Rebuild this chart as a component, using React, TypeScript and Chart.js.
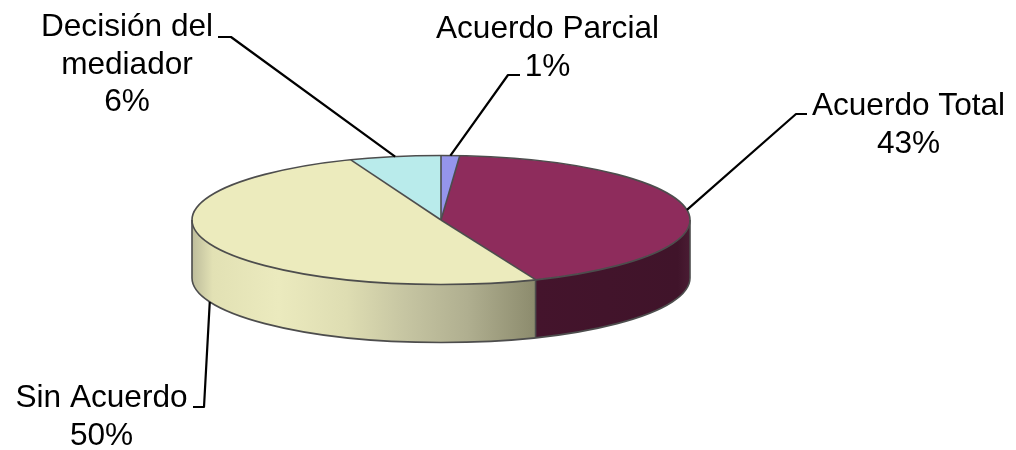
import React, { useEffect, useRef } from "react";
import { Chart, registerables } from "chart.js";

Chart.register(...registerables);

const categories = ["Acuerdo Parcial", "Acuerdo Total", "Sin Acuerdo", "Decisión del mediador"];
const values = [1.2, 42.6, 50.3, 5.9];
const topColors = ["#9595EC", "#8E2C5C", "#ECEBBD", "#B9EBEB"];
const labelLines = [["Acuerdo Parcial"], ["Acuerdo Total"], ["Sin Acuerdo"], ["Decisión del", "mediador"]];

const RADIUS_X = 249;
const RADIUS_Y = 64.5;
const DEPTH = 58;
const FONT_PX = 31.6;
const LINE_HEIGHT = 37.5;
const OUTLINE = "#4d4d4d";

// Label placement: text centre, first baseline, leader elbow and leader stub end.
const labelBoxes = [
  { cx: 547.5, y: 38, elbowX: 508, elbowY: 75, stubX: 520 },
  { cx: 908.5, y: 115, elbowX: 796, elbowY: 114, stubX: 807 },
  { cx: 101.5, y: 407, elbowX: 204, elbowY: 407, stubX: 193 },
  { cx: 127, y: 36, elbowX: 231, elbowY: 37, stubX: 218 },
];

const wallStops: [number, string][] = [
  [0, "#BDBC9B"],
  [0.06, "#E2E1B4"],
  [0.25, "#EBEABE"],
  [0.45, "#DEDDB2"],
  [0.62, "#C6C5A2"],
  [0.8, "#B0AF90"],
  [1, "#8C8B6D"],
];

const pie3d = {
  id: "pie3d",
  beforeDatasetsDraw(chart: any) {
    const ctx = chart.ctx;
    const arcs = chart.getDatasetMeta(0).data;
    const { x, y } = arcs[0];

    arcs.forEach((arc: any, i: number) => {
      const a0 = Math.max(arc.startAngle, 0);
      const a1 = Math.min(arc.endAngle, Math.PI);
      if (a1 <= a0) return;
      const x0 = x + RADIUS_X * Math.cos(a0);
      const x1 = x + RADIUS_X * Math.cos(a1);
      ctx.beginPath();
      ctx.ellipse(x, y, RADIUS_X, RADIUS_Y, 0, a0, a1, false);
      ctx.lineTo(x1, y + RADIUS_Y * Math.sin(a1) + DEPTH);
      ctx.ellipse(x, y + DEPTH, RADIUS_X, RADIUS_Y, 0, a1, a0, true);
      ctx.lineTo(x0, y + RADIUS_Y * Math.sin(a0));
      ctx.closePath();
      if (i === 2) {
        const g = ctx.createLinearGradient(x1, 0, x0, 0);
        wallStops.forEach(([p, c]) => g.addColorStop(p, c));
        ctx.fillStyle = g;
      } else {
        const g = ctx.createLinearGradient(x0, 0, x1, 0);
        g.addColorStop(0, "#4A1C33");
        g.addColorStop(0.08, "#40142A");
        g.addColorStop(1, "#44142C");
        ctx.fillStyle = g;
      }
      ctx.fill();
    });

    ctx.save();
    ctx.translate(x, y);
    ctx.scale(1, RADIUS_Y / RADIUS_X);
    ctx.translate(-x, -y);
  },
  afterDatasetsDraw(chart: any) {
    const ctx = chart.ctx;
    ctx.restore();
    const arcs = chart.getDatasetMeta(0).data;
    const { x, y } = arcs[0];

    ctx.save();
    ctx.lineJoin = "round";
    // wall outline
    ctx.strokeStyle = OUTLINE;
    ctx.lineWidth = 1.6;
    ctx.beginPath();
    ctx.moveTo(x + RADIUS_X, y);
    ctx.lineTo(x + RADIUS_X, y + DEPTH);
    ctx.ellipse(x, y + DEPTH, RADIUS_X, RADIUS_Y, 0, 0, Math.PI, false);
    ctx.lineTo(x - RADIUS_X, y);
    ctx.stroke();
    const front = arcs[1].endAngle;
    ctx.beginPath();
    ctx.moveTo(x + RADIUS_X * Math.cos(front), y + RADIUS_Y * Math.sin(front));
    ctx.lineTo(x + RADIUS_X * Math.cos(front), y + RADIUS_Y * Math.sin(front) + DEPTH);
    ctx.stroke();
    // top outline
    ctx.beginPath();
    ctx.ellipse(x, y, RADIUS_X, RADIUS_Y, 0, 0, Math.PI * 2);
    ctx.stroke();
    // slice edges
    arcs.forEach((arc: any) => {
      ctx.beginPath();
      ctx.moveTo(x, y);
      ctx.lineTo(x + RADIUS_X * Math.cos(arc.startAngle), y + RADIUS_Y * Math.sin(arc.startAngle));
      ctx.stroke();
    });

    // leaders, anchored at each slice's mid-angle on the rim
    const total = values.reduce((s, v) => s + v, 0);
    ctx.strokeStyle = "#000";
    ctx.lineWidth = 2.2;
    arcs.forEach((arc: any, i: number) => {
      const box = labelBoxes[i];
      const mid = (arc.startAngle + arc.endAngle) / 2;
      const sin = Math.sin(mid);
      const px = x + RADIUS_X * Math.cos(mid);
      const py = y + RADIUS_Y * sin + (sin > 0.2 ? DEPTH : 0);
      ctx.beginPath();
      ctx.moveTo(box.stubX, box.elbowY);
      ctx.lineTo(box.elbowX, box.elbowY);
      ctx.lineTo(px, py);
      ctx.stroke();

      // text
      const lines = [...labelLines[i], `${Math.round((values[i] / total) * 100)}%`];
      ctx.fillStyle = "#000";
      ctx.font = `${FONT_PX}px "Liberation Sans", Arial, sans-serif`;
      ctx.textAlign = "center";
      ctx.textBaseline = "alphabetic";
      lines.forEach((line, k) => {
        ctx.fillText(line, box.cx, box.y + k * LINE_HEIGHT);
      });
    });
    ctx.restore();
  },
};

export default function App() {
  const ref = useRef<HTMLCanvasElement>(null);
  useEffect(() => {
    const chart = new Chart(ref.current as HTMLCanvasElement, {
      type: "pie",
      data: {
        labels: categories,
        datasets: [
          {
            data: values,
            backgroundColor: topColors,
            borderWidth: 0,
            radius: RADIUS_X,
            clip: false,
          } as any,
        ],
      },
      options: {
        responsive: false,
        animation: false,
        events: [],
        devicePixelRatio: 1,
        layout: { padding: { left: 0, top: 0, right: 134, bottom: 10 } },
        plugins: { legend: { display: false }, tooltip: { enabled: false } },
      },
      plugins: [pie3d],
    } as any);
    return () => chart.destroy();
  }, []);
  return (
    <div style={{ position: "absolute", left: 0, top: 0, width: 1016, height: 450, background: "#fff" }}>
      <canvas ref={ref} width={1016} height={450} style={{ display: "block" }} />
    </div>
  );
}
